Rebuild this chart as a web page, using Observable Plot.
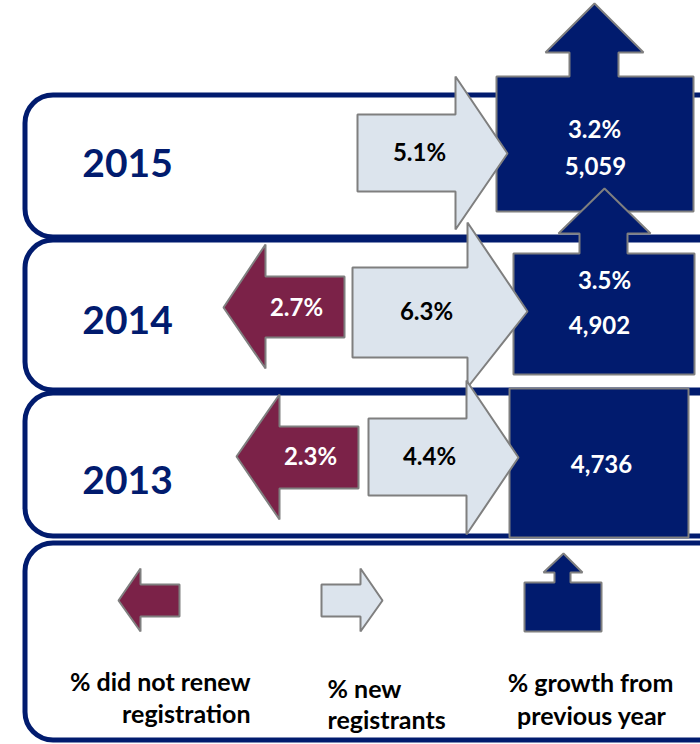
<!DOCTYPE html>
<html>
<head>
<meta charset="utf-8">
<script src="https://cdn.jsdelivr.net/npm/d3@7"></script>
<script src="https://cdn.jsdelivr.net/npm/@observablehq/plot@0.6"></script>
<style>
  html, body { margin: 0; padding: 0; background: #fff; }
  #chart svg { display: block; }
</style>
</head>
<body>
<div id="chart"></div>
<script>
// ---------------- DATA ----------------
const years = ["2015", "2014", "2013"];
const newRegistrantsPct = [5.1, 6.3, 4.4];
const didNotRenewPct = [null, 2.7, 2.3];
const growthPct = [3.2, 3.5, null];
const totalRegistrants = [5059, 4902, 4736];
const legendLabels = [
  ["% did not renew", "registration"],
  ["% new", "registrants"],
  ["% growth from", "previous year"]
];

// ---------------- LAYOUT (pixel geometry) ----------------
const NAVY = "#011b6e", MAROON = "#7b2248", LIGHT = "#dce4ed", EDGE = "#7f7f7f";
const FONT = "Lato, 'Open Sans', sans-serif";

const cardLayout = [
  {y1: 95, y2: 237}, {y1: 240, y2: 390}, {y1: 393, y2: 536}, {y1: 543, y2: 740}
];
const lightLayout = [
  {x0: 357, xb: 455, xt: 507, r1: 114, r2: 191, h1: 76, h2: 229, yc: 153},
  {x0: 352, xb: 467, xt: 527, r1: 267, r2: 357, h1: 222, h2: 387, yc: 311},
  {x0: 368, xb: 466, xt: 518, r1: 418, r2: 495, h1: 380, h2: 534, yc: 457}
];
const lightLegend = {x0: 321, xb: 360, xt: 382, r1: 584, r2: 616, h1: 568, h2: 631, yc: 600};
const redLayout = [
  null,
  {x0: 344, xb: 265, xt: 223, r1: 276, r2: 337, h1: 244, h2: 368, yc: 307},
  {x0: 358, xb: 279, xt: 236, r1: 426, r2: 488, h1: 394, h2: 519, yc: 456}
];
const redLegend = {x0: 179, xb: 140, xt: 118, r1: 584, r2: 616, h1: 568, h2: 631, yc: 600};
const boxLayout = [
  {x1: 496, x2: 693, y1: 76, y2: 211, s1: 569, s2: 618, a1: 545, a2: 643, hb: 52, tx: 594, ty: 3},
  {x1: 513, x2: 694, y1: 253, y2: 374, s1: 579, s2: 627, a1: 558, a2: 650, hb: 233, tx: 604, ty: 188},
  {x1: 509, x2: 688, y1: 388, y2: 537}
];
const boxLegend = {x1: 524, x2: 601, y1: 582, y2: 631, s1: 554, s2: 570, a1: 543, a2: 582, hb: 572, tx: 563, ty: 553};

const yearText = [{x: 127, y: 164}, {x: 127, y: 321}, {x: 127, y: 481}];
const newText = [{x: 419, y: 153}, {x: 426, y: 312}, {x: 429, y: 457}];
const redText = [null, {x: 296, y: 308}, {x: 310, y: 457}];
const growthText = [{x: 594, y: 130}, {x: 604, y: 281}, null];
const totalText = [{x: 595, y: 167}, {x: 599, y: 326}, {x: 601, y: 465}];

// ---------------- SHAPE BUILDERS ----------------
function arrowPts(g, id) {
  return [
    [g.x0, g.r1], [g.xb, g.r1], [g.xb, g.h1], [g.xt, g.yc],
    [g.xb, g.h2], [g.xb, g.r2], [g.x0, g.r2]
  ].map(([x, y]) => ({id, x, y}));
}
function boxPts(g, id) {
  const p = [[g.x1, g.y2], [g.x1, g.y1]];
  if (g.tx != null) {
    p.push([g.s1, g.y1], [g.s1, g.hb], [g.a1, g.hb], [g.tx, g.ty],
           [g.a2, g.hb], [g.s2, g.hb], [g.s2, g.y1]);
  }
  p.push([g.x2, g.y1], [g.x2, g.y2]);
  return p.map(([x, y]) => ({id, x, y}));
}

const lightPts = [], redPts = [], bluePts = [];
years.forEach((yr, i) => {
  if (newRegistrantsPct[i] != null) lightPts.push(...arrowPts(lightLayout[i], yr));
  if (didNotRenewPct[i] != null) redPts.push(...arrowPts(redLayout[i], yr));
  bluePts.push(...boxPts(boxLayout[i], yr));
});
lightPts.push(...arrowPts(lightLegend, "legend"));
redPts.push(...arrowPts(redLegend, "legend"));
bluePts.push(...boxPts(boxLegend, "legend"));

const pct = v => v.toFixed(1) + "%";
const num = d3.format(",");

const yearLabels = years.map((yr, i) => ({...yearText[i], t: yr}));
const newLabels = years.map((yr, i) => ({...newText[i], t: pct(newRegistrantsPct[i])}));
const redLabels = years.flatMap((yr, i) => didNotRenewPct[i] == null ? [] : [{...redText[i], t: pct(didNotRenewPct[i])}]);
const blueLabels = years.flatMap((yr, i) => {
  const out = [{...totalText[i], t: num(totalRegistrants[i])}];
  if (growthPct[i] != null) out.push({...growthText[i], t: pct(growthPct[i])});
  return out;
});
const cards = cardLayout.map(c => ({...c, x1: 25, x2: 760}));

const legendEnd = [
  {x: 250, y: 682, t: legendLabels[0][0]},
  {x: 250, y: 714, t: legendLabels[0][1]}
];
const legendStart = [
  {x: 327, y: 689, t: legendLabels[1][0]},
  {x: 327, y: 720, t: legendLabels[1][1]}
];
const legendMid = [
  {x: 590, y: 683, t: legendLabels[2][0]},
  {x: 591, y: 716, t: legendLabels[2][1]}
];

const shapeOpts = {x: "x", y: "y", z: "id", curve: "linear-closed", stroke: EDGE, strokeWidth: 2, strokeLinejoin: "miter"};
const txt = (fill, size) => ({x: "x", y: "y", text: "t", fill, fontSize: size, fontWeight: "bold", fontFamily: FONT});

const chart = Plot.plot({
  width: 700,
  height: 744,
  margin: 0,
  x: {domain: [0, 700], range: [0, 700], axis: null},
  y: {domain: [0, 744], range: [0, 744], axis: null},
  style: {background: "#fff"},
  marks: [
    Plot.rect(cards, {x1: "x1", x2: "x2", y1: "y1", y2: "y2", rx: 28, fill: "none", stroke: NAVY, strokeWidth: 5}),
    Plot.line(bluePts, {...shapeOpts, fill: NAVY}),
    Plot.line(redPts, {...shapeOpts, fill: MAROON}),
    Plot.line(lightPts, {...shapeOpts, fill: LIGHT}),
    Plot.text(yearLabels, txt(NAVY, 39)),
    Plot.text(newLabels, txt("#000", 24)),
    Plot.text(redLabels, txt("#fff", 24)),
    Plot.text(blueLabels, txt("#fff", 24)),
    Plot.text(legendEnd, {...txt("#000", 25), textAnchor: "end"}),
    Plot.text(legendStart, {...txt("#000", 25), textAnchor: "start"}),
    Plot.text(legendMid, {...txt("#000", 25), textAnchor: "middle"})
  ]
});
document.getElementById("chart").appendChild(chart);
</script>
</body>
</html>
